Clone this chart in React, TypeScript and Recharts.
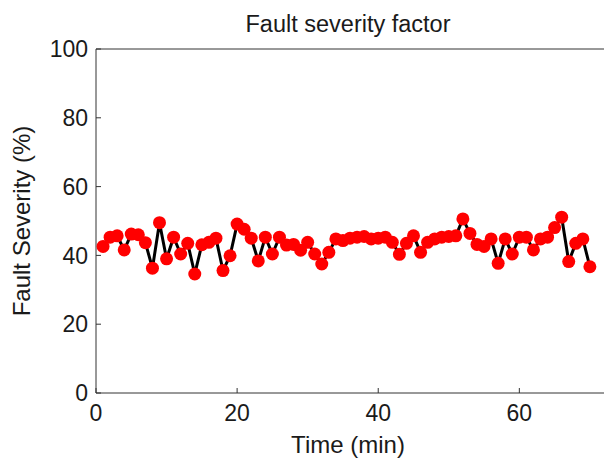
import React from 'react';
import { LineChart, Line, XAxis, YAxis } from 'recharts';

const times: number[] = [
  1, 2, 3, 4, 5, 6, 7, 8, 9, 10, 11, 12, 13, 14, 15, 16, 17, 18, 19, 20,
  21, 22, 23, 24, 25, 26, 27, 28, 29, 30, 31, 32, 33, 34, 35, 36, 37, 38, 39, 40,
  41, 42, 43, 44, 45, 46, 47, 48, 49, 50, 51, 52, 53, 54, 55, 56, 57, 58, 59, 60,
  61, 62, 63, 64, 65, 66, 67, 68, 69, 70,
];

const severity: number[] = [
  42.6, 45.3, 45.7, 41.6, 46.2, 46.0, 43.7, 36.3, 49.5, 39.0,
  45.3, 40.4, 43.5, 34.6, 43.1, 43.8, 45.0, 35.6, 39.9, 49.1,
  47.6, 45.0, 38.4, 45.3, 40.4, 45.3, 43.0, 43.2, 41.5, 43.8,
  40.4, 37.5, 40.9, 44.8, 44.3, 45.0, 45.3, 45.5, 44.8, 45.0,
  45.3, 43.8, 40.3, 43.5, 45.7, 40.9, 43.8, 44.8, 45.3, 45.5,
  45.7, 50.6, 46.4, 43.2, 42.6, 44.8, 37.7, 44.8, 40.4, 45.3,
  45.3, 41.6, 44.8, 45.3, 48.1, 51.1, 38.2, 43.5, 44.8, 36.7,
];

const xTicks: number[] = [0, 20, 40, 60];
const yTicks: number[] = [0, 20, 40, 60, 80, 100];

const title = 'Fault severity factor';
const xLabel = 'Time (min)';
const yLabel = 'Fault Severity (%)';

const data = times.map((t, i) => ({ t, v: severity[i] }));

const FONT = '"Liberation Sans", Arial, Helvetica, sans-serif';
const TEXT = '#1a1a1a';
const AXIS = '#333333';

const tickStyle = { fontFamily: FONT, fontSize: 23, fill: TEXT };

export default function App() {
  return (
    <div style={{ position: 'absolute', left: 0, top: 0, background: '#fff' }}>
      <LineChart
        width={604}
        height={463}
        data={data}
        margin={{ top: 0, right: 0, bottom: 0, left: 0 }}
      >
        <XAxis
          xAxisId="bottom"
          dataKey="t"
          type="number"
          domain={[0, 72]}
          ticks={xTicks}
          interval={0}
          orientation="bottom"
          height={70}
          stroke={AXIS}
          tickSize={-5}
          tickMargin={17}
          tick={tickStyle}
          allowDataOverflow
          label={{
            content: (props: any) => {
              const vb = props.viewBox || {};
              return (
                <text
                  x={vb.x + vb.width / 2 - 2}
                  y={453}
                  textAnchor="middle"
                  style={{ fontFamily: FONT, fontSize: 24, fill: TEXT }}
                >
                  {xLabel}
                </text>
              );
            },
          }}
        />
        <XAxis
          xAxisId="top"
          dataKey="t"
          type="number"
          domain={[0, 72]}
          ticks={xTicks}
          interval={0}
          orientation="top"
          height={49}
          stroke={AXIS}
          tickSize={-5}
          tick={false}
          allowDataOverflow
          label={{
            content: (props: any) => {
              const vb = props.viewBox || {};
              return (
                <text
                  x={vb.x + vb.width / 2 - 2}
                  y={32}
                  textAnchor="middle"
                  style={{ fontFamily: FONT, fontSize: 23.5, fill: TEXT }}
                >
                  {title}
                </text>
              );
            },
          }}
        />
        <YAxis
          yAxisId="left"
          type="number"
          domain={[0, 100]}
          ticks={yTicks}
          interval={0}
          orientation="left"
          width={96}
          stroke={AXIS}
          tickSize={-5}
          tickMargin={13}
          tick={tickStyle}
          label={{
            content: (props: any) => {
              const vb = props.viewBox || {};
              const cy = vb.y + vb.height / 2;
              return (
                <text
                  x={30}
                  y={cy}
                  transform={`rotate(-90, 30, ${cy})`}
                  textAnchor="middle"
                  style={{ fontFamily: FONT, fontSize: 24, fill: TEXT }}
                >
                  {yLabel}
                </text>
              );
            },
          }}
        />
        <YAxis
          yAxisId="right"
          type="number"
          domain={[0, 100]}
          ticks={yTicks}
          interval={0}
          orientation="right"
          width={0}
          stroke={AXIS}
          tickSize={-5}
          tick={false}
        />
        <Line
          xAxisId="bottom"
          yAxisId="left"
          type="linear"
          dataKey="v"
          stroke="#000000"
          strokeWidth={3}
          dot={{ r: 6.5, fill: '#ff0000', stroke: 'none' }}
          activeDot={false}
          isAnimationActive={false}
        />
      </LineChart>
    </div>
  );
}
